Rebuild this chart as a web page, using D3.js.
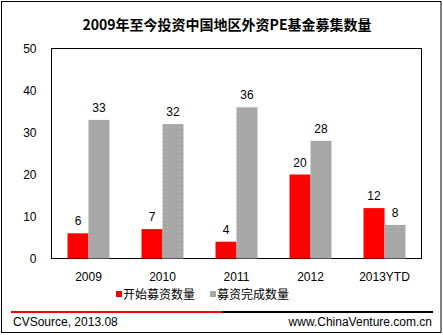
<!DOCTYPE html>
<html><head><meta charset="utf-8">
<script src="https://cdn.jsdelivr.net/npm/d3@7"></script>
<style>body{margin:0;background:#fff}svg{display:block}text{font-family:"Liberation Sans",Arial,sans-serif}</style>
</head><body>
<svg id="c" width="443" height="335"></svg>
<script>
const title = "2009年至今投资中国地区外资PE基金募集数量";
const categories = ["2009","2010","2011","2012","2013YTD"];
const seriesNames = ["开始募资数量","募资完成数量"];
const startValues = [6,7,4,20,12];
const doneValues = [33,32,36,28,8];
const yTicks = [0,10,20,30,40,50];
const source = "CVSource, 2013.08";
const site = "www.ChinaVenture.com.cn";
const colors = ["#ff0000","url(#gray)"];

const svg = d3.select("#c");
const defs = svg.append("defs");
const pat = defs.append("pattern").attr("id","gray").attr("patternUnits","userSpaceOnUse").attr("width",4).attr("height",4);
pat.append("rect").attr("width",4).attr("height",4).attr("fill","#a8a8a8");
pat.append("rect").attr("x",1).attr("y",1).attr("width",1).attr("height",1).attr("fill","#9c9c9c");
pat.append("rect").attr("x",3).attr("y",3).attr("width",1).attr("height",1).attr("fill","#b0b0b0");

// outer frame
svg.append("rect").attr("x",1.5).attr("y",1.5).attr("width",439.5).attr("height",331).attr("fill","none").attr("stroke","#000").attr("stroke-width",1);

svg.append("text").attr("x",227).attr("y",30).attr("text-anchor","middle")
  .attr("font-size",14).attr("font-weight","bold")
  .style("font-family","'Noto Sans CJK SC','Liberation Sans',sans-serif").text(title);

const L=51.5,R=421.5,T=48.5,B=258.5;
const x = d3.scaleBand().domain(categories).range([L,R]);
const y = d3.scaleLinear().domain([0,50]).range([B,T]);
const barW = 21;

svg.append("rect").attr("x",L).attr("y",T).attr("width",R-L).attr("height",B-T).attr("fill","none").attr("stroke","#000").attr("stroke-width",1);

const yAxis = d3.axisLeft(y).tickValues(yTicks).tickSize(0).tickPadding(15);
const gy = svg.append("g").attr("transform",`translate(${L},0)`).call(yAxis);
gy.select(".domain").remove();
gy.selectAll("text").attr("font-size",12).attr("fill","#000").style("font-family","'Liberation Sans',Arial,sans-serif");

const xAxis = d3.axisBottom(x).tickSize(0).tickPadding(14);
const gx = svg.append("g").attr("transform",`translate(0,${B})`).call(xAxis);
gx.select(".domain").remove();
gx.selectAll("text").attr("font-size",12).attr("fill","#000").style("font-family","'Liberation Sans',Arial,sans-serif");

const series=[startValues,doneValues];
series.forEach((vals,si)=>{
  const cx = c => x(c)+x.bandwidth()/2 + (si===0?-barW:0);
  svg.append("g").selectAll("rect").data(categories).join("rect")
    .attr("x",c=>cx(c)).attr("width",barW)
    .attr("y",(c,i)=>y(vals[i])).attr("height",(c,i)=>B-y(vals[i]))
    .attr("fill",colors[si]);
  svg.append("g").selectAll("text").data(categories).join("text")
    .attr("x",c=>cx(c)+barW/2).attr("y",(c,i)=>y(vals[i])-8)
    .attr("text-anchor","middle").attr("font-size",12).text((c,i)=>vals[i]);
});

// legend
const lg = svg.append("g");
const legX=[116,210];
seriesNames.forEach((n,i)=>{
  lg.append("rect").attr("x",legX[i]).attr("y",291).attr("width",6).attr("height",6).attr("fill",i===0?"#ff0000":"#a8a8a8");
  lg.append("text").attr("x",legX[i]+7).attr("y",298.5).attr("font-size",12)
    .style("font-family","'Noto Sans CJK SC',sans-serif").text(n);
});

// footer lines
svg.append("rect").attr("x",11).attr("y",311).attr("width",211).attr("height",2).attr("fill","#ff0000");
svg.append("rect").attr("x",222).attr("y",311).attr("width",211).attr("height",2).attr("fill","#000");
svg.append("text").attr("x",13).attr("y",326).attr("font-size",12).text(source);
svg.append("text").attr("x",432).attr("y",326).attr("font-size",12).attr("text-anchor","end").text(site);
</script>
</body></html>
